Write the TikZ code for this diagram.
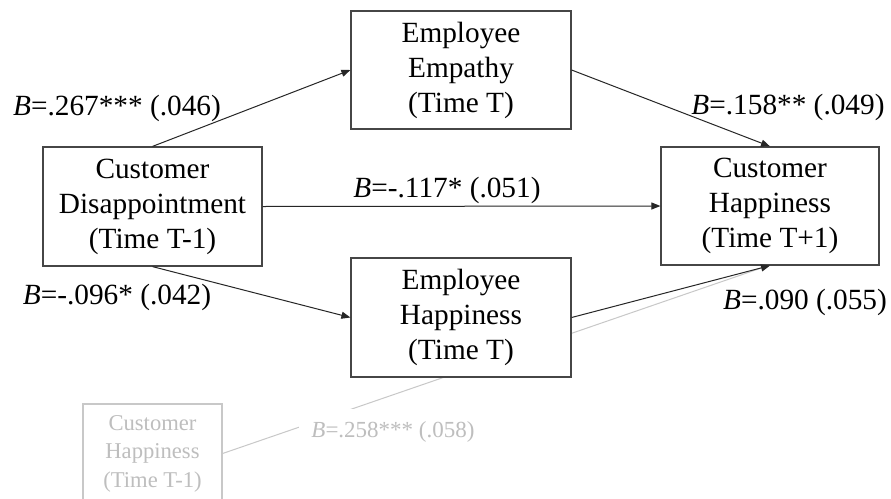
\documentclass[tikz,border=0pt]{standalone}
\usepackage{fontspec}
\setmainfont{Liberation Serif}
\usetikzlibrary{arrows.meta}
\definecolor{boxline}{RGB}{70,70,70}
\definecolor{faintgray}{RGB}{190,190,190}
\definecolor{faintline}{RGB}{200,200,200}
\tikzset{
  varbox/.style={draw=boxline, line width=1.2pt, fill=white, align=center,
    inner sep=0pt, font=\fontsize{29.3}{35}\selectfont},
  faintbox/.style={draw=faintline, line width=1.2pt, fill=white, align=center,
    inner sep=0pt, text=faintgray, font=\fontsize{22.6}{28.5}\selectfont},
  coef/.style={inner sep=0pt, font=\fontsize{29.3}{35}\selectfont},
  faintcoef/.style={fill=white, inner xsep=12pt, inner ysep=13pt, text=faintgray,
    font=\fontsize{23}{28}\selectfont},
  path/.style={draw=black!85, line width=1pt, -{Triangle[length=9pt,width=7pt]}},
  faintpath/.style={draw=faintline, line width=1pt, -{Triangle[length=9pt,width=7pt]}}
}
\begin{document}
\begin{tikzpicture}[x=1pt,y=-1pt]
\useasboundingbox[fill=white] (0,0) rectangle (891,498);
% faint control variable (its lower edge lies below the picture's edge)
\node[faintbox, minimum width=139pt, minimum height=99pt] (chp) at (152.5,453.5)
  {Customer\\Happiness\\(Time T-1)};
\coordinate (chbot) at (770,265);
\draw[faintpath] (chp.east) -- (chbot);
\node[faintcoef] (l6) at (393,432) {\textit{B}=.258*** (.058)};
% main boxes
\node[varbox, minimum width=219pt, minimum height=119pt] (cd) at (152.5,206.5)
  {Customer\\Disappointment\\(Time T-1)};
\node[varbox, minimum width=220pt, minimum height=118pt] (ee) at (461,70)
  {Employee\\Empathy\\(Time T)};
\node[varbox, minimum width=220pt, minimum height=119pt] (eh) at (461,317.5)
  {Employee\\Happiness\\(Time T)};
\node[varbox, minimum width=218pt, minimum height=118pt] (ch) at (770,206)
  {Customer\\Happiness\\(Time T+1)};
% coefficients
\node[coef] (l1) at (117,108) {\textit{B}=.267*** (.046)};
\node[coef] (l2) at (117,297) {\textit{B}=-.096* (.042)};
\node[coef] (l3) at (447,190) {\textit{B}=-.117* (.051)};
\node[coef] (l4) at (788,107) {\textit{B}=.158** (.049)};
\node[coef] (l5) at (805,302) {\textit{B}=.090 (.055)};
% paths
\draw[path] (cd.north) -- (ee.west);
\draw[path] (ee.east) -- (ch.north);
\draw[path] (cd.east) -- (ch.west);
\draw[path] (cd.south) -- (eh.west);
\draw[path] (eh.east) -- (ch.south);
\end{tikzpicture}
\end{document}
